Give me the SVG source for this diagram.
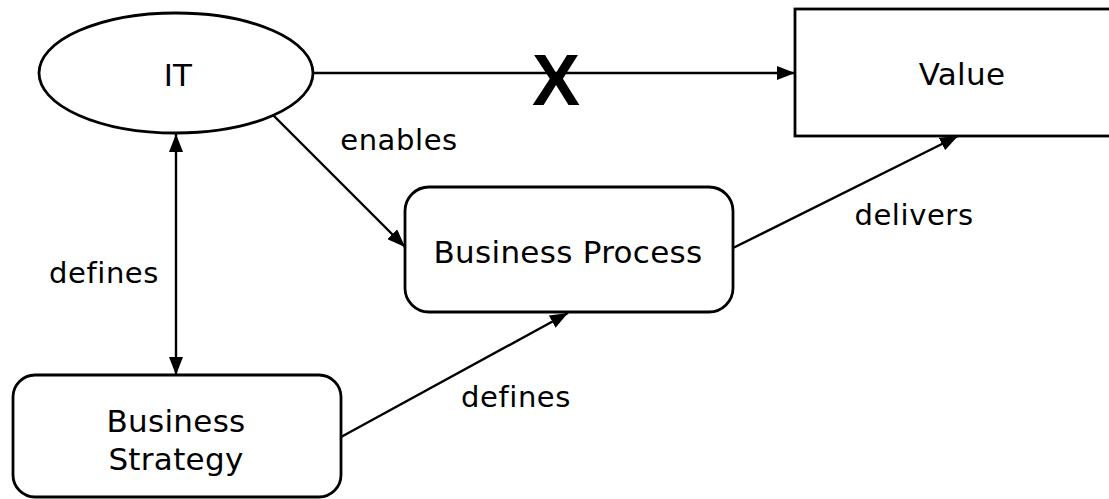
<svg xmlns="http://www.w3.org/2000/svg" width="1109" height="499" viewBox="0 0 1109 499">
<style>
.shape{fill:#fff;stroke:#000;stroke-width:2.8}
.edge{fill:none;stroke:#000;stroke-width:2.4}
.t{font-family:"DejaVu Sans",Verdana,sans-serif;font-size:31px;letter-spacing:0.3px;fill:#000;text-anchor:middle}
.lbl{font-family:"DejaVu Sans",Verdana,sans-serif;font-size:29px;letter-spacing:0.6px;fill:#000;text-anchor:middle}
</style>
<defs>
<marker id="ah" viewBox="0 0 18 14" refX="18" refY="7" markerWidth="18" markerHeight="14" markerUnits="userSpaceOnUse" orient="auto-start-reverse">
<path d="M0,0 L18,7 L0,14 Z" fill="#000"/>
</marker>
</defs>
<rect width="1109" height="499" fill="#fff"/>
<g id="connectors">
<line class="edge" x1="313" y1="73" x2="795" y2="73" marker-end="url(#ah)"/>
<line class="edge" x1="273" y1="115" x2="405" y2="247" marker-end="url(#ah)"/>
<line class="edge" x1="176" y1="134" x2="176" y2="375" marker-start="url(#ah)" marker-end="url(#ah)"/>
<line class="edge" x1="733" y1="248" x2="958" y2="136" marker-end="url(#ah)"/>
<line class="edge" x1="341" y1="437" x2="568" y2="313" marker-end="url(#ah)"/>
<text x="556" y="105" style="font-family:'Liberation Sans',Arial,sans-serif;font-weight:bold;font-size:72px;text-anchor:middle">X</text>
<text class="lbl" x="399" y="150">enables</text>
<text class="lbl" x="104" y="283">defines</text>
<text class="lbl" x="914" y="225">delivers</text>
<text class="lbl" x="516" y="407">defines</text>
</g>
<g id="node-it">
<ellipse class="shape" cx="176" cy="73" rx="137" ry="60"/>
<text class="t" x="178" y="86">IT</text>
</g>
<g id="node-value">
<rect class="shape" x="795" y="9" width="330" height="127"/>
<text class="t" x="962" y="85">Value</text>
</g>
<g id="node-process">
<rect class="shape" x="405" y="187" width="328" height="125" rx="24" ry="24"/>
<text class="t" x="568" y="263">Business Process</text>
</g>
<g id="node-strategy">
<rect class="shape" x="13" y="375" width="328" height="122" rx="22" ry="22"/>
<text class="t" x="176" y="432">Business</text>
<text class="t" x="176" y="470">Strategy</text>
</g>
</svg>
